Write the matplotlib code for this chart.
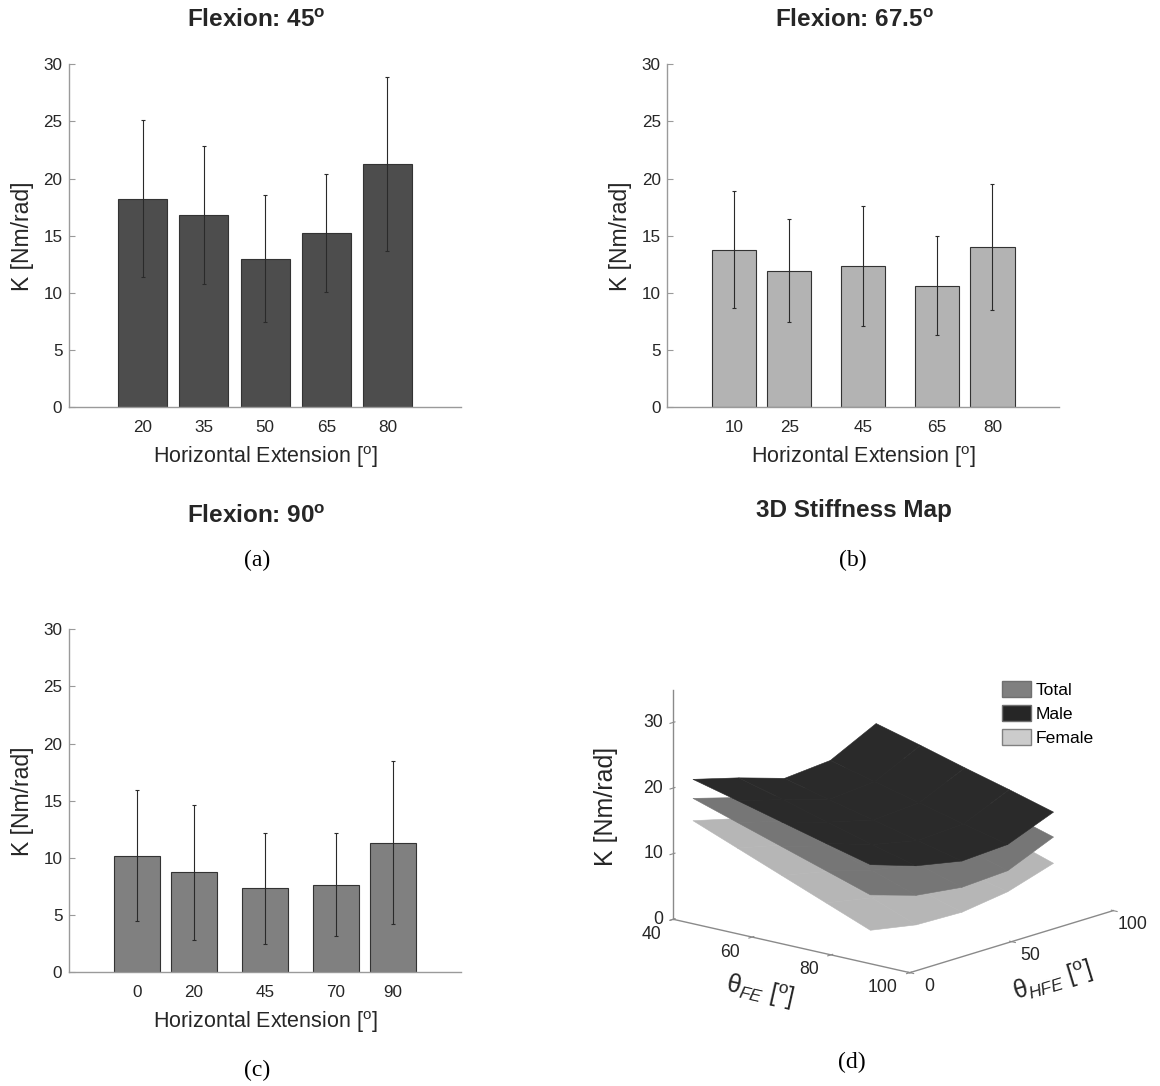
import numpy as np
import matplotlib
matplotlib.use('Agg')
import matplotlib.pyplot as plt
from matplotlib.patches import Patch
from mpl_toolkits.mplot3d import proj3d

plt.rcParams['font.family'] = ['Liberation Sans', 'DejaVu Sans']
plt.rcParams['mathtext.fontset'] = 'custom'
plt.rcParams['mathtext.rm'] = 'Liberation Sans'
plt.rcParams['mathtext.it'] = 'Liberation Sans:italic'
plt.rcParams['mathtext.bf'] = 'Liberation Sans:bold'

# (a) flexion 45 deg
he_45 = [20, 35, 50, 65, 80]
k_45 = [18.25, 16.8, 13.0, 15.25, 21.3]
sd_45 = [6.85, 6.05, 5.55, 5.15, 7.6]
# (b) flexion 67.5 deg
he_675 = [10, 25, 45, 65, 80]
k_675 = [13.8, 11.95, 12.4, 10.65, 14.05]
sd_675 = [5.1, 4.5, 5.25, 4.3, 5.5]
# (c) flexion 90 deg
he_90 = [0, 20, 45, 70, 90]
k_90 = [10.2, 8.75, 7.35, 7.65, 11.35]
sd_90 = [5.75, 5.9, 4.85, 4.5, 7.1]

# (d) stiffness map, rows = theta_FE, cols = theta_HFE
fe_grid = [45, 56.25, 67.5, 78.75, 90]
hfe_grid = [0, 22.5, 45, 67.5, 90]
k_male = [[22.0, 20.1, 17.9, 18.5, 22.0],
          [20.3, 18.3, 16.2, 16.8, 20.2],
          [18.55, 16.4, 14.6, 15.1, 18.3],
          [16.8, 14.5, 13.0, 13.4, 16.5],
          [15.1, 12.8, 11.4, 11.8, 14.6]]
k_total = [[19.1, 17.1, 15.2, 15.7, 18.8],
           [16.95, 15.0, 13.3, 13.8, 16.8],
           [14.8, 12.8, 11.3, 11.8, 14.8],
           [12.65, 10.6, 9.4, 9.8, 12.8],
           [10.5, 8.3, 7.4, 7.8, 10.8]]
k_female = [[15.7, 13.9, 12.3, 12.8, 15.5],
            [13.05, 11.4, 9.9, 10.3, 13.3],
            [10.4, 8.9, 7.6, 8.0, 11.1],
            [7.75, 6.4, 5.6, 6.2, 9.0],
            [5.1, 3.8, 3.6, 4.6, 6.8]]
fe_ticks = [40, 60, 80, 100]
hfe_ticks = [0, 50, 100]
k_ticks = [0, 10, 20, 30]

W, H = 1160, 1086
fig = plt.figure(figsize=(W / 100, H / 100), dpi=100)
TXT = '#262626'

def px_rect(x0, y0, x1, y1):
    return [x0 / W, 1 - y1 / H, (x1 - x0) / W, (y1 - y0) / H]

def bar_panel(rect, he, k, sd, color, width, xlim):
    ax = fig.add_axes(rect)
    ax.bar(he, k, width=width, color=color, edgecolor='#333333', linewidth=0.8, zorder=2)
    ax.errorbar(he, k, yerr=sd, fmt='none', ecolor='#2a2a2a', elinewidth=0.8,
                capsize=1.6, capthick=0.8, zorder=3)
    ax.set_xlim(xlim)
    ax.set_ylim(0, 30)
    ax.set_xticks(he)
    ax.set_yticks(range(0, 31, 5))
    for s in ['top', 'right']:
        ax.spines[s].set_visible(False)
    for s in ['left', 'bottom']:
        ax.spines[s].set_color('#9a9a9a')
        ax.spines[s].set_linewidth(1.0)
    ax.tick_params(axis='both', direction='in', length=4, color='#9a9a9a',
                   labelcolor=TXT, labelsize=12.3)
    ax.tick_params(axis='x', pad=9.5)
    ax.tick_params(axis='y', pad=4.8)
    ax.set_xlabel('Horizontal Extension [$^{\\mathrm{o}}$]', fontsize=15.5, color=TXT, labelpad=6.5)
    ax.set_ylabel('K [Nm/rad]', fontsize=16.5, color=TXT, labelpad=7)
    return ax

bar_panel(px_rect(69, 64.3, 461, 407.3), he_45, k_45, sd_45, '#4d4d4d', 12, (2, 98))
bar_panel(px_rect(667.3, 64.3, 1059, 407.3), he_675, k_675, sd_675, '#b3b3b3', 12, (-8, 98))
bar_panel(px_rect(69, 629.3, 461, 972.3), he_90, k_90, sd_90, '#808080', 16, (-24, 114))

def fig_text(x, y, s, **kw):
    fig.text(x / W, 1 - y / H, s, ha='center', color=TXT, **kw)

fig_text(256, 26.7, 'Flexion: 45$^{\\mathbf{o}}$', va='baseline', fontsize=17.5, fontweight='bold')
fig_text(854, 26.7, 'Flexion: 67.5$^{\\mathbf{o}}$', va='baseline', fontsize=17.5, fontweight='bold')
fig_text(256, 522.7, 'Flexion: 90$^{\\mathbf{o}}$', va='baseline', fontsize=17.5, fontweight='bold')
fig_text(854, 517, '3D Stiffness Map', va='baseline', fontsize=17.5, fontweight='bold')
for lab, x, y in [('(a)', 257, 560), ('(b)', 853, 560), ('(c)', 257, 1070), ('(d)', 852, 1062)]:
    fig.text(x / W, 1 - y / H, lab, ha='center', va='center', fontsize=17,
             family='Liberation Serif', color='black')

# 3D panel
S = 560.0
cx, cy = 893.0, H - 800.0
ax3 = fig.add_axes([(cx - S / 2) / W, (cy - S / 2) / H, S / W, S / H],
                   projection='3d', proj_type='ortho', computed_zorder=False)
ax3.view_init(elev=15.2, azim=-49.3)
ax3.set_box_aspect((1, 1, 0.763))

FE, HFE = np.meshgrid(fe_grid, hfe_grid, indexing='ij')
for kk, col in [(k_female, '#b6b6b6'), (k_total, '#767676'), (k_male, '#2a2a2a')]:
    ax3.plot_surface(FE, HFE, np.array(kk), color=col, edgecolor=col, linewidth=0.4, shade=False)

ax3.set_xlim(40, 100)
ax3.set_ylim(0, 100)
ax3.set_zlim(0, 35)
ax3.set_xticks(fe_ticks)
ax3.set_yticks(hfe_ticks)
ax3.set_zticks(k_ticks)
ax3.set_xticklabels([])
ax3.set_yticklabels([])
ax3.set_zticklabels([])
ax3.zaxis.set_ticks_position('lower')
ax3.zaxis.set_label_position('lower')
ax3.grid(False)
for a in [ax3.xaxis, ax3.yaxis, ax3.zaxis]:
    a.pane.fill = False
    a.pane.set_edgecolor('none')
    a.line.set_color('#8a8a8a')
    a.line.set_linewidth(1.0)
ax3.tick_params(axis='both', colors='#8a8a8a')

# fit the projected box onto the reference position
def corner(x, y, z):
    xs, ys, _ = proj3d.proj_transform(x, y, z, ax3.get_proj())
    return ax3.transData.transform((xs, ys))

fig.canvas.draw()
p0 = corner(40, 0, 0)
p1 = corner(100, 100, 0)
s = 440.0 / (p1[0] - p0[0])
t0 = np.array([673.3, H - 919.3])
c_new = t0 - (p0 - np.array([cx, cy])) * s
S2 = S * s
ax3.set_position([(c_new[0] - S2 / 2) / W, (c_new[1] - S2 / 2) / H, S2 / W, S2 / H])
fig.canvas.draw()

def put(x, y, z, s, dx, dy, **kw):
    p = corner(x, y, z)
    fig.text((p[0] + dx) / W, (p[1] - dy) / H, s, color=TXT, **kw)

def angle(a, b):
    pa, pb = corner(*a), corner(*b)
    return np.degrees(np.arctan2(pb[1] - pa[1], pb[0] - pa[0]))

for v in fe_ticks:
    put(v, 0, 0, str(v), -12, 15, ha='right', va='center', fontsize=12.7)
for v in hfe_ticks:
    put(100, v, 0, str(v), 19, 14, ha='center', va='center', fontsize=12.7)
for v in k_ticks:
    put(40, 0, v, str(v), -10, 0, ha='right', va='center', fontsize=12.7)

put(70, 0, 0, '$\\mathrm{\\theta}_{FE}$ [$^{\\mathrm{o}}$]', -32, 46, ha='center', va='center',
    fontsize=18, rotation=angle((40, 0, 0), (100, 0, 0)), rotation_mode='anchor')
put(100, 50, 0, '$\\mathrm{\\theta}_{HFE}$ [$^{\\mathrm{o}}$]', 41, 40, ha='center', va='center',
    fontsize=18, rotation=angle((100, 0, 0), (100, 100, 0)), rotation_mode='anchor')
put(40, 0, 17.5, 'K [Nm/rad]', -67, 2, ha='center', va='center', fontsize=18, rotation=90)

fig.legend(handles=[Patch(facecolor='#808080', edgecolor='#707070', label='Total'),
                    Patch(facecolor='#262626', edgecolor='#707070', label='Male'),
                    Patch(facecolor='#cccccc', edgecolor='#808080', label='Female')],
           loc='upper left', bbox_to_anchor=(1002 / W, 1 - 681 / H), frameon=False,
           fontsize=12.6, handlelength=1.65, handleheight=1.0, handletextpad=0.25,
           labelspacing=0.42, borderpad=0, borderaxespad=0)

fig.savefig('out.png', dpi=100)
